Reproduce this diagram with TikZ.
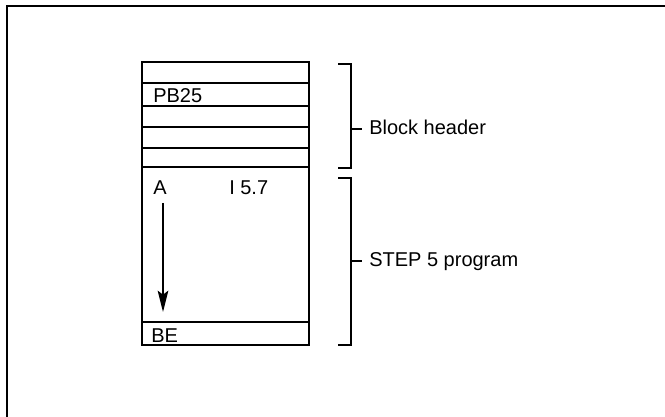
\documentclass[tikz,border=0pt]{standalone}
\usepackage{fontspec}
\setmainfont{Liberation Sans}
\usetikzlibrary{arrows.meta}
\begin{document}
\begin{tikzpicture}[x=0.75pt,y=-0.75pt,
  frameline/.style={line width=1.6pt},
  boxline/.style={line width=1.1pt},
  lbl/.style={inner sep=0pt,anchor=base west,font=\fontsize{15}{18}\selectfont}]
\useasboundingbox (0,0) rectangle (665,417);
% outer frame (top and left edges)
\draw[frameline] (7,417) -- (7,6) -- (665,6);
% block
\draw[boxline] (142,62) rectangle (309,345);
\foreach \yy in {83,106,127,148,167,322}
  \draw[boxline] (142,\yy) -- (309,\yy);
% texts in block
\node[lbl] (pb) at (153,103) {PB25};
\node[lbl] (A) at (153,195) {A};
\node[lbl] (op) at (229,195) {I 5.7};
\node[lbl] (be) at (151,343) {BE};
% arrow
\coordinate (arrStart) at (163,203);
\coordinate (arrEnd) at (163,312);
\draw[boxline,-{Stealth[length=16pt,width=8pt,inset=3pt]}] (arrStart) -- (arrEnd);
% brackets
\draw[boxline] (338,64) -- (351,64) -- (351,168) -- (338,168);
\draw[boxline] (351,129) -- (362,129);
\node[lbl] (bh) at (369,135) {Block header};
\draw[boxline] (338,178) -- (351,178) -- (351,345) -- (338,345);
\draw[boxline] (351,261) -- (362,261);
\node[lbl] (sp) at (369,267) {STEP 5 program};
\end{tikzpicture}
\end{document}
